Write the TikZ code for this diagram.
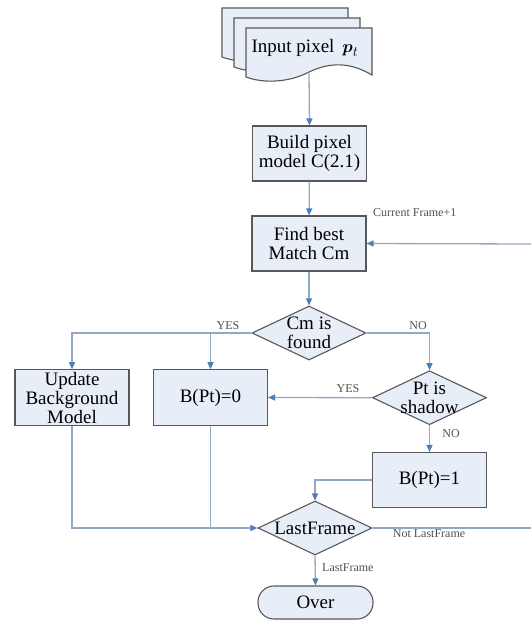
\documentclass[tikz,border=0pt]{standalone}
\usepackage{amsmath}
\usepackage{fontspec}
\setmainfont{Liberation Serif}
\usetikzlibrary{arrows.meta,shapes.geometric}
\definecolor{boxfill}{HTML}{E8EEF8}
\definecolor{boxline}{HTML}{585858}
\definecolor{connc}{HTML}{94A8C3}
\definecolor{tipc}{HTML}{4F7DB5}
\definecolor{labc}{HTML}{505050}
\begin{document}
\begin{tikzpicture}[x=1pt,y=-1pt,
 box/.style={draw=boxline, fill=boxfill, line width=1.1pt, minimum width=114pt, minimum height=55pt, inner sep=0pt, align=center, font=\fontsize{19}{19}\selectfont},
 dia/.style={diamond, draw=boxline, fill=boxfill, line width=1.1pt, minimum width=114pt, minimum height=54pt, inner sep=0pt},
 dtext/.style={align=center, font=\fontsize{19}{19}\selectfont, inner sep=0pt},
 sheet/.style={draw=boxline, fill=boxfill, line width=1.1pt},
 conn/.style={draw=connc, line width=1.3pt, -{Triangle[length=7pt,width=6pt,color=tipc]}},
 plain/.style={draw=connc, line width=1.3pt},
 lab/.style={font=\fontsize{12}{12}\selectfont, inner sep=0pt, text=labc}
]
\useasboundingbox[fill=white] (0,0) rectangle (531,621);

% document stack
\foreach \dx/\dy in {-24/-20,-12/-10,0/0}{
  \begin{scope}[shift={(\dx,\dy)}]
    \draw[sheet] (246,28) -- (372,28) -- (372,75) .. controls (350,62) and (330,62) .. (309,72) .. controls (290,82) and (265,84) .. (246,77) -- cycle;
  \end{scope}
}
\node[dtext] (input) at (305,48) {Input pixel \,$\boldsymbol{p}_{t}$};
\coordinate (docb) at (309,72);

\node[box] (build) at (309.5,153.5) {Build pixel\\model C(2.1)};
\node[box] (find) at (309,243.5) {Find best\\Match Cm};
\node[dia] (cm) at (309,333) {};
\node[dtext] (cmt) at (cm.center) {Cm is\\found};
\node[box, minimum height=55.5pt] (update) at (72,397.5) {Update\\Background\\Model};
\node[box, minimum height=55.5pt] (b0) at (210.5,397.5) {B(Pt)=0};
\node[dia] (shadow) at (429.5,397.7) {};
\node[dtext] (shadowt) at (shadow.center) {Pt is\\shadow};
\node[box] (b1) at (429.5,480) {B(Pt)=1};
\node[dia] (last) at (315,528) {};
\node[dtext] (lastt) at (last.center) {LastFrame};
\node[box, rounded corners=16pt, minimum height=33pt, minimum width=115pt] (over) at (315.5,602.5) {Over};

\coordinate (yj) at (b0.north |- cm.west);
\coordinate (bj) at (b0.south |- last.west);
\coordinate (redgeb) at (531,528);
\coordinate (redget) at (531,244);

\draw[conn] (docb) -- (build.north);
\draw[conn] (build) -- (find);
\draw[conn] (find) -- (cm);
\draw[conn] (cm.west) -| (update.north);
\draw[conn] (yj) -- (b0.north);
\draw[conn] (cm.east) -| (shadow.north);
\draw[conn] (shadow.west) -- (b0.east);
\draw[conn] (shadow.south) -- (b1.north);
\draw[conn] (b1.west) -| (last.north);
\draw[conn] (update.south) |- (last.west);
\draw[plain] (b0.south) -- (bj);
\draw[plain] (last.east) -- (redgeb);
\draw[conn] (redget) -- (find.east);
\draw[conn] (last.south) -- (over.north);

\node[lab] (l1) at (228,326) {YES};
\node[lab] (l2) at (418,326) {NO};
\node[lab] (l3) at (348,389) {YES};
\node[lab] (l4) at (451,434) {NO};
\node[lab] (l5) at (429,534) {Not LastFrame};
\node[lab, anchor=west] (l6) at (322,568) {LastFrame};
\node[lab, anchor=west] (l7) at (373,213) {Current Frame+1};
\end{tikzpicture}
\end{document}
